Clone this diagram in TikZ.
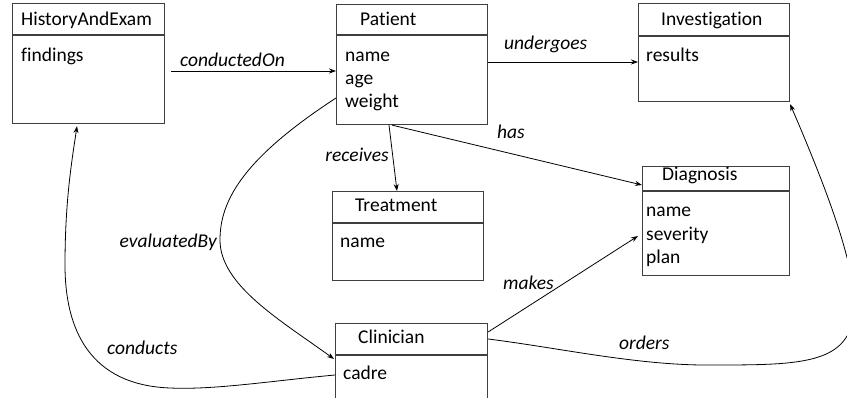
\documentclass[tikz,border=0pt]{standalone}
\usepackage{fontspec}
\setmainfont[RawFeature={-liga;-clig;-calt;-dlig;-rlig}]{Carlito}
\usetikzlibrary{arrows.meta,calc}
\definecolor{boxgray}{HTML}{3F3F3F}
\tikzset{
  cls/.style={draw=boxgray, line width=1.1pt, inner sep=0pt, anchor=north west},
  divider/.style={draw=boxgray, line width=1.1pt},
  txt/.style={inner sep=0pt, anchor=base west, font=\fontsize{19.5}{23}\selectfont},
  rel/.style={inner sep=0pt, anchor=base west, font=\fontsize{19.5}{23}\selectfont\itshape},
  assoc/.style={draw=black, line width=0.8pt, -{Stealth[length=7pt,width=5pt]}},
}
\begin{document}
\begin{tikzpicture}[x=1pt, y=-1pt]
\useasboundingbox (0,0) rectangle (847,398);
\clip (0,0) rectangle (847,398);

% class boxes
\node[cls, minimum width=152pt, minimum height=120pt] (hae) at (12,3) {};
\node[cls, minimum width=151pt, minimum height=120pt] (pat) at (336,4) {};
\node[cls, minimum width=151pt, minimum height=98pt]  (inv) at (638,3) {};
\node[cls, minimum width=147pt, minimum height=109pt] (dia) at (642,166) {};
\node[cls, minimum width=151pt, minimum height=89pt]  (tre) at (332,191) {};
\node[cls, minimum width=152pt, minimum height=90pt]  (cli) at (335,323) {};

% compartment dividers
\draw[divider] ($(hae.north west)+(0,32)$) -- ($(hae.north east)+(0,32)$);
\draw[divider] ($(pat.north west)+(0,31)$) -- ($(pat.north east)+(0,31)$);
\draw[divider] ($(inv.north west)+(0,33)$) -- ($(inv.north east)+(0,33)$);
\draw[divider] ($(dia.north west)+(0,25)$) -- ($(dia.north east)+(0,25)$);
\draw[divider] ($(tre.north west)+(0,32)$) -- ($(tre.north east)+(0,32)$);
\draw[divider] ($(cli.north west)+(0,32)$) -- ($(cli.north east)+(0,32)$);

% class names
\node[txt] (hae-name) at (21,26)  {HistoryAndExam};
\node[txt] (pat-name) at (360,26) {Patient};
\node[txt] (inv-name) at (661,26) {Investigation};
\node[txt] (dia-name) at (662,181) {Diagnosis};
\node[txt] (tre-name) at (355,212) {Treatment};
\node[txt] (cli-name) at (358,344) {Clinician};

% attributes
\node[txt] (hae-a1) at (21,62)  {findings};
\node[txt] (pat-a1) at (345,62) {name};
\node[txt] (pat-a2) at (345,85) {age};
\node[txt] (pat-a3) at (345,108) {weight};
\node[txt] (inv-a1) at (646,62) {results};
\node[txt] (dia-a1) at (646,217) {name};
\node[txt] (dia-a2) at (646,241) {severity};
\node[txt] (dia-a3) at (646,264) {plan};
\node[txt] (tre-a1) at (340,248) {name};
\node[txt] (cli-a1) at (343,380) {cadre};

% association ends
\coordinate (hae-out) at ($(hae.north east)+(6,68)$);
\coordinate (pat-in)  at ($(pat.north west)+(0,67)$);
\coordinate (pat-out) at ($(pat.north east)+(0,58)$);
\coordinate (inv-in)  at ($(inv.north west)+(0,59)$);
\coordinate (pat-b1)  at ($(pat.south west)+(53,0)$);
\coordinate (pat-b2)  at ($(pat.south west)+(56,0)$);
\coordinate (tre-in)  at ($(tre.north west)+(65,0)$);
\coordinate (dia-in1) at ($(dia.north west)+(0,19)$);
\coordinate (dia-in2) at ($(dia.north west)+(-4,70)$);
\coordinate (pat-w)   at ($(pat.north west)+(0,94)$);
\coordinate (cli-in)  at ($(cli.north west)+(-1,36)$);
\coordinate (cli-c)   at ($(cli.north west)+(0,52)$);
\coordinate (hae-in)  at ($(hae.south west)+(65,2)$);
\coordinate (cli-m)   at ($(cli.north east)+(0,9)$);
\coordinate (cli-o)   at ($(cli.north east)+(0,16)$);
\coordinate (inv-b)   at ($(inv.south east)+(0,2)$);

% associations
\draw[assoc] (hae-out) -- (pat-in);
\draw[assoc] (pat-out) -- (inv-in);
\draw[assoc] (pat-b2) -- (dia-in1);
\draw[assoc] (pat-b1) -- (tre-in);
\draw[assoc] (cli-m) -- (dia-in2);
\draw[assoc] (cli-o) .. controls (560,348) and (640,366) .. (713,365)
  .. controls (860,365) and (902,364) .. (inv-b);
\draw[assoc] (pat-w) .. controls (244,158) and (220,200) .. (220,240)
  .. controls (220,285) and (280,320) .. (cli-in);
\draw[assoc] (cli-c) .. controls (270,381) and (215,390) .. (170,388)
  .. controls (90,385) and (65,330) .. (65,265)
  .. controls (65,200) and (72,160) .. (hae-in);

% association labels
\node[rel] (l-conductedOn) at (180,67)  {conductedOn};
\node[rel] (l-undergoes)   at (504,50)  {undergoes};
\node[rel] (l-has)         at (497,139) {has};
\node[rel, anchor=base east] (l-receives) at (389,162) {receives};
\node[rel] (l-makes)       at (503,290) {makes};
\node[rel] (l-orders)      at (619,350) {orders};
\node[rel, anchor=base east] (l-evaluatedBy) at (217,248) {evaluatedBy};
\node[rel] (l-conducts)    at (107,355) {conducts};
\end{tikzpicture}
\end{document}
